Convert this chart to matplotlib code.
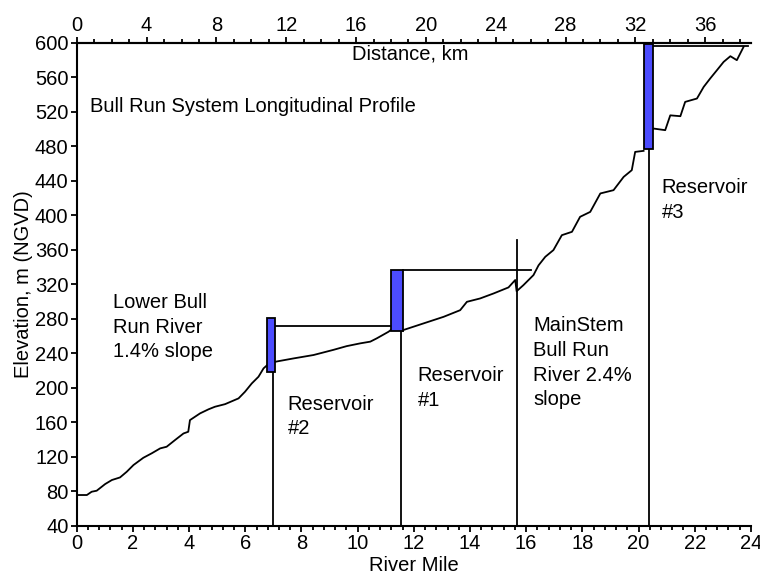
import numpy as np
import matplotlib.pyplot as plt
from matplotlib.patches import Rectangle
from matplotlib.ticker import MultipleLocator, FixedLocator

plt.rcParams['font.family'] = ['Liberation Sans', 'DejaVu Sans']

# river profile (river mile, elevation m)
mile_lower = [0.0, 0.36, 0.53, 0.71, 1.01, 1.25, 1.54, 1.78, 2.02, 2.37, 2.67, 2.97,
              3.2, 3.5, 3.8, 3.97, 4.03, 4.39, 4.69, 4.92, 5.28, 5.76, 5.99, 6.23,
              6.47, 6.65, 6.77]
elev_lower = [75.6, 75.6, 79.4, 80.6, 88.3, 93.0, 96.0, 102.6, 110.4, 118.8, 124.0, 129.7,
              131.6, 139.4, 147.0, 149.0, 162.5, 170.3, 175.0, 178.0, 181.0, 187.7, 195.4, 205.0,
              212.8, 222.5, 226.0]
mile_res2 = [7.06, 7.12, 7.71, 8.43, 9.14, 9.61, 10.09, 10.45, 10.68, 11.1, 11.18]
elev_res2 = [230.0, 230.5, 234.0, 238.0, 244.0, 248.3, 251.5, 253.5, 257.3, 265.0, 267.0]
mile_res1 = [11.61, 11.63, 12.34, 13.06, 13.65, 13.89, 14.36, 14.84, 15.37, 15.61, 15.66,
             15.9, 16.26, 16.44, 16.68, 16.97, 17.27, 17.63, 17.92, 18.28, 18.64, 19.11,
             19.47, 19.76, 19.88, 20.18]
elev_res1 = [266.0, 267.0, 274.6, 282.3, 290.0, 299.7, 303.6, 309.4, 316.4, 325.0, 312.0,
             319.0, 330.7, 342.0, 351.9, 359.7, 377.0, 380.9, 398.3, 404.0, 425.4, 429.2,
             444.6, 452.4, 473.6, 474.8]
mile_res3 = [20.51, 20.53, 20.95, 21.13, 21.49, 21.66, 22.08, 22.32, 22.55, 22.79, 23.03,
             23.27, 23.5, 23.74]
elev_res3 = [500.0, 500.7, 498.8, 516.0, 515.0, 531.6, 535.5, 549.0, 558.7, 568.3, 578.0,
             584.6, 580.0, 595.4]

# dams: left mile, right mile, bottom, top
dam_left = [6.77, 11.18, 20.18]
dam_right = [7.06, 11.61, 20.51]
dam_bottom = [218.6, 265.7, 476.4]
dam_top = [281.0, 336.5, 598.5]
# pool surfaces
pool_elev = [271.5, 336.5, 596.5]
pool_end = [11.18, 16.17, 23.9]
# section boundaries
bound_mile = [6.98, 11.55, 15.67, 20.38]
bound_top = [218.6, 265.7, 371.0, 476.4]

km_ticks = [0, 4, 8, 12, 16, 20, 24, 28, 32, 36]

fig = plt.figure(figsize=(7.6, 5.8), dpi=100)
ax = fig.add_axes([0.101, 0.0936, 0.887, 0.8324])

for xs, ys in [(mile_lower, elev_lower), (mile_res2, elev_res2),
               (mile_res1, elev_res1), (mile_res3, elev_res3)]:
    ax.plot(xs, ys, color='black', lw=1.3)

for i in range(3):
    ax.add_patch(Rectangle((dam_left[i], dam_bottom[i]), dam_right[i] - dam_left[i],
                           dam_top[i] - dam_bottom[i], facecolor='#4c4cff',
                           edgecolor='black', lw=1.3, zorder=3))
    ax.plot([dam_right[i], pool_end[i]], [pool_elev[i], pool_elev[i]], color='black', lw=1.3)
for m, t in zip(bound_mile, bound_top):
    ax.plot([m, m], [40, t], color='black', lw=1.3)

fs = 14.5
ls = 1.38
ax.set_xlim(0, 24)
ax.set_ylim(40, 600)
ax.xaxis.set_major_locator(MultipleLocator(2))
ax.xaxis.set_minor_locator(MultipleLocator(0.4))
ax.yaxis.set_major_locator(MultipleLocator(40))
ax.spines['right'].set_visible(False)
for s in ['left', 'bottom', 'top']:
    ax.spines[s].set_linewidth(1.5)
ax.tick_params(axis='both', which='major', labelsize=fs, length=4, width=1.3, pad=2)
ax.tick_params(axis='x', which='minor', length=3, width=1.3)

sec = ax.secondary_xaxis('top', functions=(lambda m: m * 1.609, lambda k: k / 1.609))
sec.xaxis.set_major_locator(FixedLocator(km_ticks))
sec.xaxis.set_minor_locator(FixedLocator(np.arange(0, 39)))
sec.tick_params(axis='x', which='major', labelsize=fs, length=4, width=1.3, pad=2)
sec.tick_params(axis='x', which='minor', length=3, width=1.3)
sec.spines['top'].set_linewidth(1.5)

ax.set_xlabel('River Mile', fontsize=fs, labelpad=2)
ax.set_ylabel('Elevation, m (NGVD)', fontsize=fs, labelpad=1)

ax.text(11.87, 598, 'Distance, km', fontsize=fs, ha='center', va='top')
ax.text(0.47, 537, 'Bull Run System Longitudinal Profile', fontsize=fs, va='top')
ax.text(1.3, 310, 'Lower Bull\nRun River\n1.4% slope', fontsize=fs, va='top', linespacing=ls)
ax.text(7.5, 192, 'Reservoir\n#2', fontsize=fs, va='top', linespacing=ls)
ax.text(12.13, 225, 'Reservoir\n#1', fontsize=fs, va='top', linespacing=ls)
ax.text(16.26, 283, 'MainStem\nBull Run\nRiver 2.4%\nslope', fontsize=fs, va='top',
        linespacing=ls)
ax.text(20.83, 443, 'Reservoir\n#3', fontsize=fs, va='top', linespacing=ls)

fig.savefig('out.png', dpi=100)
